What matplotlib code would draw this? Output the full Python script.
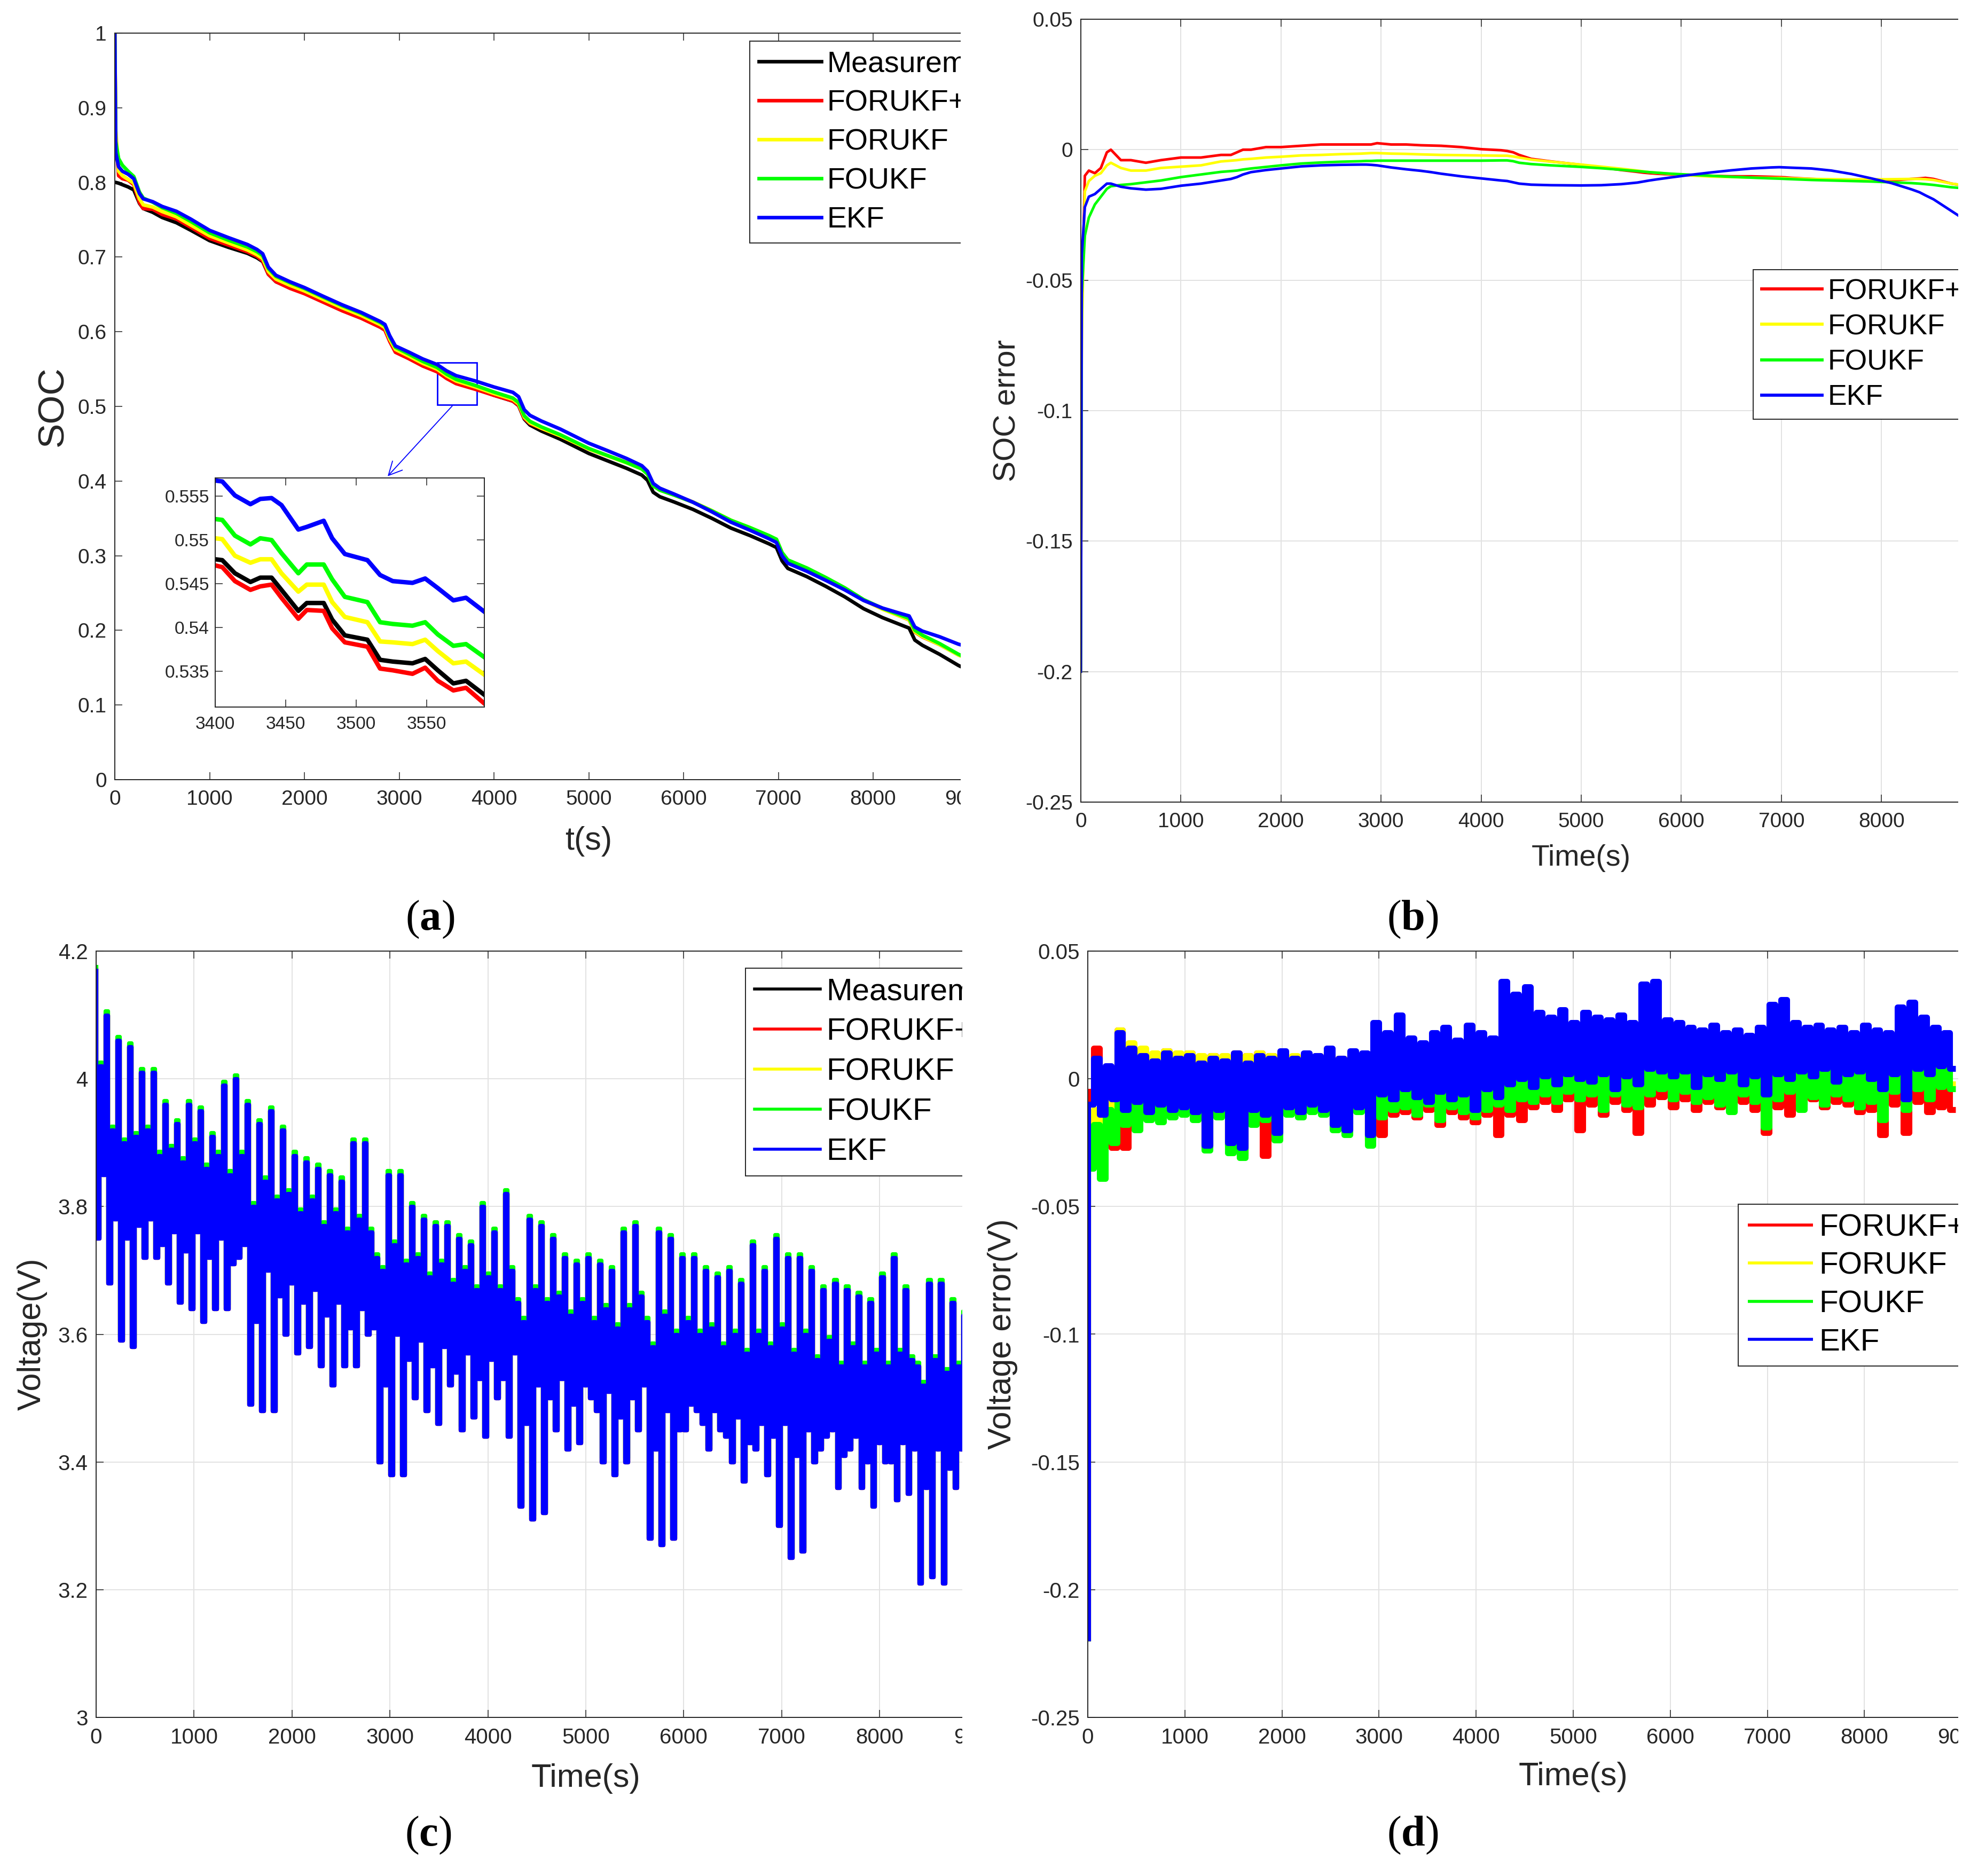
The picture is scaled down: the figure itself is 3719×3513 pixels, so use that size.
import numpy as np
import matplotlib
matplotlib.use("Agg")
import matplotlib.pyplot as plt
from matplotlib.patches import Rectangle

plt.rcParams['font.family'] = 'Liberation Sans'
plt.rcParams['axes.unicode_minus'] = False
plt.rcParams['mathtext.fontset'] = 'custom'
plt.rcParams['mathtext.rm'] = 'Liberation Serif'
plt.rcParams['mathtext.bf'] = 'Liberation Serif:bold'

W, H = 3719, 3513

names = ["Measurement", "FORUKF+", "FORUKF", "FOUKF", "EKF"]
colors = ["#000000", "#ff0000", "#ffff00", "#00ff00", "#0000ff"]

# ---- SOC (panels a and b) ----
soc_t = [0, 10, 40, 80, 140, 200, 260, 300, 400, 500, 650, 800, 1000, 1200, 1400, 1500,
         1560, 1620, 1700, 1850, 2000, 2200, 2400, 2600, 2800, 2850, 2900, 2960, 3100, 3250, 3400, 3500,
         3600, 3800, 4000, 4200, 4260, 4320, 4380, 4500, 4700, 5000, 5200, 5400, 5560, 5620, 5680, 5750,
         5900, 6100, 6300, 6500, 6700, 6900, 6980, 7040, 7100, 7300, 7500, 7700, 7900, 8100, 8300, 8380,
         8440, 8520, 8700, 8900, 9000]
soc_meas = [0.800, 0.800, 0.799, 0.797, 0.794, 0.790, 0.772, 0.765,
            0.760, 0.753, 0.746, 0.736, 0.722, 0.713, 0.705, 0.699,
            0.694, 0.677, 0.667, 0.659, 0.652, 0.641, 0.630, 0.620,
            0.608, 0.604, 0.589, 0.575, 0.566, 0.556, 0.548, 0.539,
            0.532, 0.524, 0.515, 0.507, 0.501, 0.483, 0.475, 0.467,
            0.456, 0.437, 0.427, 0.417, 0.408, 0.401, 0.385, 0.379,
            0.372, 0.362, 0.350, 0.337, 0.327, 0.316, 0.311, 0.293,
            0.283, 0.272, 0.259, 0.245, 0.229, 0.217, 0.207, 0.203,
            0.187, 0.180, 0.168, 0.153, 0.147]
# SOC error = measured - estimated
soc_err_forukfp = [-0.200, -0.060, -0.010, -0.008, -0.009, -0.007, -0.001, 0.000,
                   -0.004, -0.004, -0.005, -0.004, -0.003, -0.003, -0.002, -0.002,
                   -0.001, 0.000, 0.000, 0.001, 0.001, 0.0015, 0.002, 0.002,
                   0.002, 0.002, 0.002, 0.0025, 0.002, 0.002, 0.0017, 0.0016,
                   0.0015, 0.001, 0.0002, -0.0002, -0.0005, -0.001, -0.002, -0.0035,
                   -0.0045, -0.0058, -0.0068, -0.0078, -0.0085, -0.0088, -0.009, -0.0092,
                   -0.0095, -0.0098, -0.010, -0.0102, -0.0102, -0.0104, -0.0105, -0.0106,
                   -0.0108, -0.0112, -0.0115, -0.0118, -0.0118, -0.0118, -0.0112, -0.011,
                   -0.0108, -0.0112, -0.013, -0.0142, -0.0148]
soc_err_forukf = [-0.200, -0.070, -0.016, -0.012, -0.010, -0.009, -0.006, -0.005,
                  -0.007, -0.008, -0.008, -0.007, -0.0065, -0.006, -0.0045, -0.0042,
                  -0.004, -0.0037, -0.0035, -0.003, -0.0027, -0.0022, -0.002, -0.0017,
                  -0.0015, -0.0014, -0.0013, -0.0013, -0.0015, -0.0016, -0.0018, -0.0019,
                  -0.002, -0.0021, -0.0022, -0.0023, -0.0023, -0.0026, -0.003, -0.0038,
                  -0.0046, -0.0057, -0.0065, -0.0073, -0.008, -0.0083, -0.0086, -0.0088,
                  -0.0093, -0.0099, -0.0103, -0.0105, -0.0107, -0.0108, -0.0108, -0.0109,
                  -0.011, -0.0112, -0.0113, -0.0114, -0.0114, -0.0113, -0.0112, -0.0112,
                  -0.0113, -0.0116, -0.013, -0.014, -0.0145]
soc_err_foukf = [-0.200, -0.055, -0.033, -0.026, -0.021, -0.018, -0.015, -0.014,
                 -0.0135, -0.0132, -0.0125, -0.0118, -0.0105, -0.0095, -0.0085, -0.0082,
                 -0.008, -0.0076, -0.0072, -0.0066, -0.006, -0.0053, -0.0049, -0.0046,
                 -0.0044, -0.0043, -0.0043, -0.0042, -0.0042, -0.0042, -0.0042, -0.0042,
                 -0.0042, -0.0042, -0.0042, -0.0041, -0.0041, -0.0044, -0.005, -0.0055,
                 -0.006, -0.0066, -0.0071, -0.0077, -0.0082, -0.0084, -0.0086, -0.0088,
                 -0.0092, -0.0096, -0.010, -0.0104, -0.0107, -0.011, -0.0111, -0.0112,
                 -0.0113, -0.0116, -0.0118, -0.012, -0.0122, -0.0125, -0.0128, -0.013,
                 -0.0132, -0.0135, -0.0144, -0.015, -0.0152]
soc_err_ekf = [-0.200, -0.040, -0.022, -0.018, -0.017, -0.015, -0.013, -0.013,
               -0.0142, -0.0148, -0.0153, -0.015, -0.0138, -0.013, -0.0118, -0.0112,
               -0.0105, -0.0095, -0.0086, -0.0078, -0.0072, -0.0064, -0.006, -0.0058,
               -0.0057, -0.0057, -0.0058, -0.006, -0.0068, -0.0075, -0.0081, -0.0086,
               -0.0092, -0.0102, -0.011, -0.0118, -0.012, -0.0125, -0.013, -0.0134,
               -0.0136, -0.0137, -0.0136, -0.0132, -0.0126, -0.0122, -0.0118, -0.0114,
               -0.0106, -0.0096, -0.0087, -0.0079, -0.0072, -0.0068, -0.0067, -0.0068,
               -0.0069, -0.0072, -0.008, -0.0093, -0.011, -0.0128, -0.0152, -0.0163,
               -0.0175, -0.019, -0.0235, -0.0285, -0.031]

# zoomed window of panel (a)
zoom_t = [3400, 3405, 3414, 3425, 3432, 3440, 3447, 3459, 3465, 3477, 3483,
          3492, 3508, 3517, 3526, 3540, 3549, 3558, 3569, 3578, 3591]
zoom_meas = [0.5478, 0.5477, 0.5462, 0.5452, 0.5457, 0.5457, 0.5443, 0.5419, 0.5428, 0.5428, 0.5409,
             0.5391, 0.5386, 0.5363, 0.5361, 0.5359, 0.5364, 0.5351, 0.5336, 0.5339, 0.5323]
zoom_forukfp = [0.5471, 0.5469, 0.5453, 0.5443, 0.5447, 0.5449, 0.5434, 0.5410, 0.5420, 0.5419, 0.5399,
                0.5383, 0.5378, 0.5353, 0.5351, 0.5347, 0.5354, 0.5339, 0.5328, 0.5331, 0.5313]
zoom_forukf = [0.5502, 0.5501, 0.5482, 0.5474, 0.5478, 0.5478, 0.5462, 0.5441, 0.5449, 0.5449, 0.5429,
               0.5412, 0.5406, 0.5384, 0.5383, 0.5381, 0.5386, 0.5373, 0.5359, 0.5361, 0.5346]
zoom_foukf = [0.5524, 0.5523, 0.5505, 0.5495, 0.5502, 0.5500, 0.5485, 0.5462, 0.5472, 0.5472, 0.5455,
              0.5435, 0.5429, 0.5406, 0.5404, 0.5402, 0.5406, 0.5392, 0.5379, 0.5381, 0.5366]
zoom_ekf = [0.5568, 0.5567, 0.5551, 0.5541, 0.5547, 0.5548, 0.5540, 0.5512, 0.5515, 0.5522, 0.5502,
            0.5484, 0.5477, 0.5460, 0.5453, 0.5451, 0.5456, 0.5445, 0.5431, 0.5434, 0.5418]

# ---- terminal voltage (panel c): per 120 s block -> spike high, spike low, band top, band bottom ----
volt_hi = [4.17, 4.10, 4.06, 4.05, 4.01, 4.01, 3.96, 3.93, 3.96, 3.95,
           3.91, 3.99, 4.00, 3.96, 3.93, 3.95, 3.92, 3.88, 3.87, 3.86,
           3.85, 3.84, 3.90, 3.90, 3.72, 3.85, 3.85, 3.80, 3.78, 3.77,
           3.77, 3.75, 3.74, 3.80, 3.76, 3.82, 3.65, 3.78, 3.77, 3.75,
           3.72, 3.71, 3.72, 3.71, 3.70, 3.76, 3.77, 3.62, 3.76, 3.75,
           3.72, 3.72, 3.70, 3.69, 3.70, 3.68, 3.74, 3.70, 3.75, 3.72,
           3.72, 3.70, 3.67, 3.68, 3.67, 3.66, 3.65, 3.69, 3.72, 3.67,
           3.55, 3.68, 3.68, 3.65, 3.63]
volt_lo = [3.75, 3.68, 3.59, 3.58, 3.72, 3.72, 3.68, 3.65, 3.64, 3.62,
           3.64, 3.64, 3.72, 3.49, 3.48, 3.48, 3.60, 3.57, 3.58, 3.55,
           3.52, 3.55, 3.55, 3.60, 3.40, 3.38, 3.38, 3.50, 3.48, 3.46,
           3.52, 3.45, 3.47, 3.44, 3.50, 3.44, 3.33, 3.31, 3.32, 3.45,
           3.42, 3.43, 3.50, 3.40, 3.38, 3.40, 3.45, 3.28, 3.27, 3.28,
           3.45, 3.48, 3.42, 3.45, 3.40, 3.37, 3.42, 3.38, 3.30, 3.25,
           3.26, 3.40, 3.44, 3.36, 3.42, 3.36, 3.33, 3.40, 3.34, 3.35,
           3.21, 3.22, 3.21, 3.36, 3.37]
volt_band_hi = [4.02, 3.92, 3.90, 3.91, 3.92, 3.88, 3.89, 3.87, 3.90, 3.86,
                3.88, 3.85, 3.88, 3.80, 3.84, 3.81, 3.82, 3.79, 3.81, 3.77,
                3.79, 3.76, 3.78, 3.76, 3.70, 3.74, 3.71, 3.72, 3.69, 3.71,
                3.68, 3.70, 3.67, 3.69, 3.67, 3.70, 3.62, 3.67, 3.65, 3.66,
                3.63, 3.65, 3.62, 3.64, 3.61, 3.64, 3.66, 3.58, 3.63, 3.60,
                3.62, 3.60, 3.61, 3.58, 3.60, 3.57, 3.60, 3.58, 3.61, 3.57,
                3.60, 3.56, 3.59, 3.55, 3.58, 3.55, 3.57, 3.55, 3.57, 3.56,
                3.52, 3.56, 3.54, 3.55, 3.54]
volt_band_lo = [3.85, 3.78, 3.75, 3.77, 3.78, 3.74, 3.76, 3.73, 3.76, 3.72,
                3.75, 3.71, 3.74, 3.62, 3.70, 3.66, 3.68, 3.65, 3.67, 3.63,
                3.65, 3.61, 3.64, 3.61, 3.52, 3.60, 3.56, 3.59, 3.55, 3.58,
                3.54, 3.57, 3.53, 3.56, 3.53, 3.57, 3.46, 3.52, 3.50, 3.53,
                3.49, 3.52, 3.48, 3.51, 3.47, 3.50, 3.52, 3.42, 3.48, 3.45,
                3.49, 3.46, 3.48, 3.44, 3.47, 3.43, 3.46, 3.44, 3.46, 3.41,
                3.45, 3.42, 3.45, 3.41, 3.44, 3.40, 3.43, 3.40, 3.43, 3.42,
                3.36, 3.42, 3.39, 3.42, 3.40]
# estimate offset above the measured voltage, same order as names
volt_bias = [0.0, 0.0, 0.002, 0.006, 0.0]

# ---- voltage error (panel d): per 120 s block -> high, low ----
verr_forukfp_hi = [-0.22, 0.012, 0.004, 0.019, 0.013, 0.011, 0.009, 0.011, 0.009, 0.010,
                   0.008, 0.009, 0.008, 0.010, 0.009, 0.010, 0.009, 0.010, 0.008, 0.009,
                   0.008, 0.009, 0.008, 0.009, 0.007, 0.005, 0.003, 0.006, 0.002, 0.004,
                   0.003, 0.005, 0.002, 0.004, 0.003, 0.004, 0.006, 0.008, 0.004, 0.003,
                   0.002, 0.004, 0.001, 0.003, 0.002, 0.004, 0.003, 0.002, 0.008, 0.004,
                   0.002, 0.003, 0.001, 0.003, 0.002, 0.001, 0.003, 0.000, 0.002, 0.005,
                   0.003, 0.001, 0.000, 0.002, 0.000, 0.001, -0.001, 0.002, 0.000, 0.001,
                   0.004, 0.003, -0.002, -0.001, -0.001]
verr_forukfp_lo = [-0.005, -0.010, -0.027, -0.027, -0.016, -0.014, -0.015, -0.013, -0.012, -0.015,
                   -0.027, -0.014, -0.026, -0.030, -0.017, -0.030, -0.021, -0.013, -0.014, -0.012,
                   -0.013, -0.018, -0.020, -0.012, -0.024, -0.022, -0.014, -0.013, -0.015, -0.012,
                   -0.018, -0.013, -0.015, -0.017, -0.014, -0.022, -0.014, -0.016, -0.011, -0.009,
                   -0.012, -0.008, -0.020, -0.010, -0.014, -0.009, -0.012, -0.021, -0.010, -0.007,
                   -0.011, -0.008, -0.012, -0.009, -0.011, -0.010, -0.009, -0.012, -0.021, -0.011,
                   -0.014, -0.010, -0.008, -0.011, -0.009, -0.010, -0.013, -0.012, -0.022, -0.010,
                   -0.021, -0.009, -0.013, -0.011, -0.012]
verr_forukf_hi = [-0.22, -0.012, 0.002, 0.019, 0.014, 0.012, 0.010, 0.011, 0.010, 0.010,
                  0.009, 0.009, 0.009, 0.010, 0.009, 0.010, 0.009, 0.010, 0.009, 0.009,
                  0.009, 0.010, 0.008, 0.009, 0.008, 0.005, 0.004, 0.006, 0.003, 0.005,
                  0.004, 0.005, 0.003, 0.005, 0.004, 0.005, 0.009, 0.012, 0.007, 0.006,
                  0.005, 0.007, 0.004, 0.006, 0.005, 0.007, 0.006, 0.005, 0.013, 0.008,
                  0.006, 0.007, 0.004, 0.006, 0.005, 0.004, 0.006, 0.003, 0.005, 0.010,
                  0.007, 0.005, 0.004, 0.006, 0.004, 0.005, 0.003, 0.006, 0.004, 0.005,
                  0.009, 0.011, 0.006, 0.005, 0.005]
verr_forukf_lo = [-0.022, -0.020, -0.018, -0.016, -0.017, -0.014, -0.015, -0.013, -0.012, -0.014,
                  -0.026, -0.013, -0.026, -0.029, -0.016, -0.015, -0.022, -0.012, -0.013, -0.011,
                  -0.012, -0.018, -0.020, -0.011, -0.024, -0.013, -0.010, -0.009, -0.012, -0.008,
                  -0.014, -0.009, -0.011, -0.013, -0.010, -0.008, -0.010, -0.006, -0.007, -0.004,
                  -0.007, -0.003, -0.006, -0.004, -0.010, -0.004, -0.008, -0.009, -0.004, -0.002,
                  -0.006, -0.003, -0.007, -0.005, -0.008, -0.011, -0.004, -0.007, -0.017, -0.006,
                  -0.003, -0.010, -0.005, -0.008, -0.004, -0.006, -0.009, -0.007, -0.014, -0.003,
                  -0.010, -0.002, -0.006, -0.001, -0.002]
verr_foukf_hi = [-0.22, -0.018, -0.012, 0.012, 0.008, 0.006, 0.005, 0.007, 0.005, 0.006,
                 0.004, 0.005, 0.004, 0.006, 0.004, 0.005, 0.005, 0.006, 0.004, 0.005,
                 0.005, 0.006, 0.004, 0.005, 0.004, 0.006, 0.004, 0.007, 0.003, 0.005,
                 0.004, 0.006, 0.003, 0.005, 0.004, 0.006, 0.010, 0.016, 0.009, 0.008,
                 0.006, 0.008, 0.005, 0.007, 0.006, 0.008, 0.007, 0.006, 0.017, 0.010,
                 0.007, 0.008, 0.005, 0.008, 0.006, 0.005, 0.007, 0.004, 0.006, 0.012,
                 0.009, 0.006, 0.005, 0.008, 0.005, 0.006, 0.004, 0.007, 0.005, 0.006,
                 0.011, 0.014, 0.007, 0.006, 0.006]
verr_foukf_lo = [-0.035, -0.039, -0.025, -0.018, -0.020, -0.016, -0.017, -0.015, -0.014, -0.016,
                 -0.028, -0.015, -0.029, -0.031, -0.018, -0.016, -0.024, -0.014, -0.015, -0.013,
                 -0.014, -0.020, -0.022, -0.013, -0.026, -0.015, -0.012, -0.011, -0.014, -0.010,
                 -0.016, -0.011, -0.013, -0.015, -0.012, -0.010, -0.012, -0.008, -0.009, -0.006,
                 -0.009, -0.005, -0.008, -0.006, -0.012, -0.006, -0.010, -0.011, -0.006, -0.004,
                 -0.008, -0.005, -0.009, -0.007, -0.010, -0.013, -0.006, -0.009, -0.019, -0.008,
                 -0.005, -0.012, -0.007, -0.010, -0.006, -0.008, -0.011, -0.009, -0.016, -0.005,
                 -0.012, -0.004, -0.008, -0.003, -0.004]
verr_ekf_hi = [-0.22, 0.008, 0.005, 0.018, 0.012, 0.009, 0.007, 0.010, 0.008, 0.009,
               0.006, 0.008, 0.007, 0.010, 0.006, 0.009, 0.008, 0.011, 0.008, 0.010,
               0.009, 0.012, 0.008, 0.011, 0.010, 0.022, 0.018, 0.025, 0.016, 0.014,
               0.018, 0.020, 0.015, 0.021, 0.018, 0.016, 0.038, 0.033, 0.036, 0.026,
               0.024, 0.027, 0.022, 0.026, 0.024, 0.023, 0.025, 0.022, 0.037, 0.038,
               0.023, 0.022, 0.020, 0.019, 0.021, 0.018, 0.019, 0.017, 0.020, 0.029,
               0.031, 0.022, 0.020, 0.021, 0.019, 0.020, 0.018, 0.021, 0.019, 0.018,
               0.028, 0.030, 0.024, 0.020, 0.018]
verr_ekf_lo = [-0.010, -0.014, -0.008, -0.012, -0.009, -0.013, -0.010, -0.012, -0.011, -0.013,
               -0.026, -0.012, -0.025, -0.027, -0.012, -0.014, -0.021, -0.011, -0.013, -0.010,
               -0.012, -0.018, -0.020, -0.011, -0.022, -0.006, -0.008, -0.004, -0.007, -0.009,
               -0.005, -0.008, -0.006, -0.012, -0.004, -0.007, -0.002, 0.000, -0.003, 0.001,
               -0.002, 0.002, 0.000, -0.001, 0.002, -0.004, 0.001, -0.002, 0.004, 0.003,
               0.001, 0.003, -0.003, 0.002, 0.000, 0.003, -0.002, 0.001, -0.006, 0.002,
               0.000, 0.003, 0.001, 0.004, -0.001, 0.002, 0.003, 0.000, -0.004, 0.002,
               -0.008, 0.004, 0.002, 0.005, 0.004]

x_ticks = list(range(0, 9001, 1000))


def box(left, right, top, bottom):
    # pixel box (top-left origin) -> figure fraction rect
    return [left / W, 1 - bottom / H, (right - left) / W, (bottom - top) / H]


def style(ax, grid, size):
    ax.tick_params(direction='in', length=10, width=1.1, top=True, right=True,
                   labelsize=size, colors='#262626')
    ax.tick_params(axis='x', pad=14)
    ax.tick_params(axis='y', pad=11)
    for s in ax.spines.values():
        s.set_linewidth(1.4)
        s.set_color('#262626')
    if grid:
        ax.grid(True, color='#e2e2e2', lw=1.4)
        ax.set_axisbelow(True)


def set_x(ax, ticks):
    ax.set_xlim(0, 10000)
    ax.set_xticks(ticks)
    ax.set_xticklabels([str(v) for v in ticks])


def legend(ax, x, y, size, spacing, lw=None):
    leg = ax.legend(loc='upper left', bbox_to_anchor=(x, y), fontsize=size, frameon=True,
                    fancybox=False, framealpha=1, edgecolor='#262626', borderpad=0.3,
                    labelspacing=spacing, handlelength=2.1, handletextpad=0.2, borderaxespad=0)
    leg.get_frame().set_linewidth(1.4)
    if lw:
        for ln in leg.get_lines():
            ln.set_linewidth(lw)
    return leg


fig = plt.figure(figsize=(W / 100, H / 100), dpi=100)

ax_a = fig.add_axes(box(215, 1990, 62, 1460))
ax_b = fig.add_axes(box(2024, 3898, 36, 1502))
ax_c = fig.add_axes(box(180, 2014, 1781, 3216))
ax_d = fig.add_axes(box(2037, 3855, 1781, 3216))
ax_in = fig.add_axes(box(403, 907, 895, 1324))
for ax, z in [(ax_a, 1), (ax_c, 1), (ax_in, 2), (ax_b, 4), (ax_d, 4)]:
    ax.set_zorder(z)

# (a) SOC
meas = np.array(soc_meas)
soc_err = [soc_err_forukfp, soc_err_forukf, soc_err_foukf, soc_err_ekf]
ax_a.plot(soc_t, meas, color=colors[0], lw=4.8, label=names[0])
for name, col, err in zip(names[1:], colors[1:], soc_err):
    ax_a.plot(soc_t, meas - np.array(err), color=col, lw=4.8, label=name)
set_x(ax_a, x_ticks)
ax_a.set_ylim(0, 1)
ax_a.set_yticks(np.arange(0, 1.01, 0.1))
ax_a.set_yticklabels(['0', '0.1', '0.2', '0.3', '0.4', '0.5', '0.6', '0.7', '0.8', '0.9', '1'])
style(ax_a, False, 28)
ax_a.set_xlabel('t(s)', fontsize=44, color='#262626')
ax_a.set_ylabel('SOC', fontsize=50, color='#262626')
ax_a.xaxis.set_label_coords(0.5, -0.062)
ax_a.yaxis.set_label_coords(-0.047, 0.5)
legend(ax_a, 0.670, 0.989, 40, 0.38)
ax_a.add_patch(Rectangle((3400, 0.502), 417, 0.057, fill=False, ec='#0000ff', lw=2.0))
ax_a.annotate('', xy=(2868, 0.405), xytext=(3570, 0.502),
              arrowprops=dict(arrowstyle='->', color='#0000ff', lw=1.3, mutation_scale=45))

# inset
for col, vals in zip(colors, [zoom_meas, zoom_forukfp, zoom_forukf, zoom_foukf, zoom_ekf]):
    ax_in.plot(zoom_t, vals, color=col, lw=6)
ax_in.set_xlim(3400, 3591)
ax_in.set_ylim(0.5309, 0.5571)
ax_in.set_xticks([3400, 3450, 3500, 3550])
ax_in.set_xticklabels(['3400', '3450', '3500', '3550'])
ax_in.set_yticks([0.535, 0.54, 0.545, 0.55, 0.555])
ax_in.set_yticklabels(['0.535', '0.54', '0.545', '0.55', '0.555'])
style(ax_in, False, 24)
ax_in.tick_params(axis='x', pad=12)
ax_in.tick_params(axis='y', pad=8)

# (b) SOC error
for name, col, err in zip(names[1:], colors[1:], soc_err):
    ax_b.plot(soc_t, err, color=col, lw=3.5, label=name)
set_x(ax_b, x_ticks[:-1])
ax_b.set_ylim(-0.25, 0.05)
ax_b.set_yticks([0.05, 0, -0.05, -0.1, -0.15, -0.2, -0.25])
ax_b.set_yticklabels(['0.05', '0', '-0.05', '-0.1', '-0.15', '-0.2', '-0.25'])
style(ax_b, True, 28)
ax_b.set_xlabel('Time(s)', fontsize=40, color='#262626')
ax_b.set_ylabel('SOC error', fontsize=42, color='#262626')
ax_b.xaxis.set_label_coords(0.5, -0.054)
ax_b.yaxis.set_label_coords(-0.059, 0.5)
legend(ax_b, 0.672, 0.680, 38.5, 0.3, lw=4.2)

# (c) voltage
volt_t = np.arange(0, 9000, 30)
volt = np.column_stack([volt_hi, volt_lo, volt_band_hi, volt_band_lo]).ravel()
for name, col, b in zip(names, colors, volt_bias):
    ax_c.plot(volt_t, volt + b, color=col, lw=5.2, drawstyle='steps-pre', label=name)
set_x(ax_c, x_ticks)
ax_c.set_ylim(3, 4.2)
ax_c.set_yticks([3, 3.2, 3.4, 3.6, 3.8, 4, 4.2])
ax_c.set_yticklabels(['3', '3.2', '3.4', '3.6', '3.8', '4', '4.2'])
style(ax_c, True, 29)
ax_c.set_xlabel('Time(s)', fontsize=44, color='#262626')
ax_c.set_ylabel('Voltage(V)', fontsize=44, color='#262626')
ax_c.xaxis.set_label_coords(0.5, -0.060)
ax_c.yaxis.set_label_coords(-0.050, 0.5)
legend(ax_c, 0.663, 0.978, 42, 0.36, lw=4)

# (d) voltage error
verr_t = np.arange(0, 9000, 60)
verr = [(verr_forukfp_hi, verr_forukfp_lo), (verr_forukf_hi, verr_forukf_lo),
        (verr_foukf_hi, verr_foukf_lo), (verr_ekf_hi, verr_ekf_lo)]
for name, col, (hi, lo) in zip(names[1:], colors[1:], verr):
    ax_d.plot(verr_t, np.column_stack([hi, lo]).ravel(), color=col, lw=8,
              drawstyle='steps-pre', solid_capstyle='butt', label=name)
set_x(ax_d, x_ticks)
ax_d.set_ylim(-0.25, 0.05)
ax_d.set_yticks([0.05, 0, -0.05, -0.1, -0.15, -0.2, -0.25])
ax_d.set_yticklabels(['0.05', '0', '-0.05', '-0.1', '-0.15', '-0.2', '-0.25'])
style(ax_d, True, 29)
ax_d.set_xlabel('Time(s)', fontsize=44, color='#262626')
ax_d.set_ylabel('Voltage error(V)', fontsize=44, color='#262626')
ax_d.xaxis.set_label_coords(0.5, -0.058)
ax_d.yaxis.set_label_coords(-0.072, 0.5)
legend(ax_d, 0.670, 0.670, 42, 0.30, lw=4)

# the source panels are cropped on the right: white masks
for x0, x1, y0, y1, z in [(1799, 2024, 0, 1740, 3), (1802, 2037, 1740, H, 3), (3667, W, 0, H, 6)]:
    fig.add_artist(Rectangle((x0 / W, 1 - y1 / H), (x1 - x0) / W, (y1 - y0) / H,
                             transform=fig.transFigure, fc='white', ec='none', zorder=z))

for lab, x, y in [('a', 805, 1722), ('b', 2645, 1722), ('c', 802, 3437), ('d', 2645, 3437)]:
    fig.text(x / W, 1 - y / H, '($\\mathbf{' + lab + '}$)', ha='center', va='center',
             fontsize=58, family='Liberation Serif', zorder=7)

fig.savefig('out.png', dpi=100, facecolor='white')
